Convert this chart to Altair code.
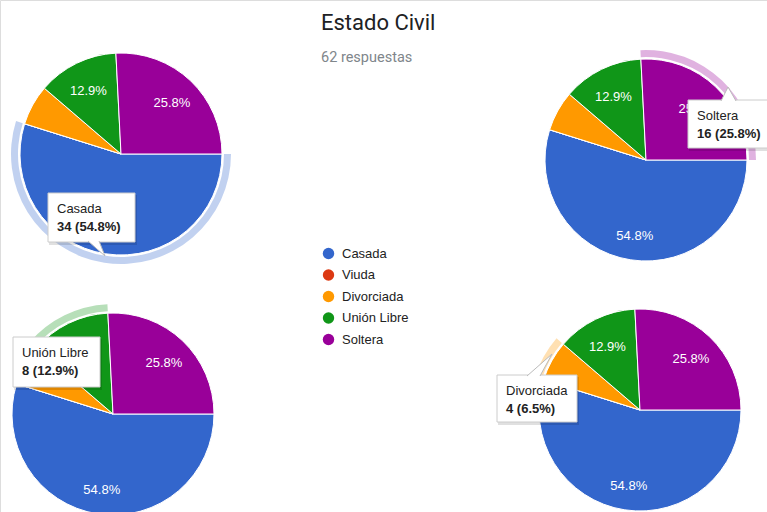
import altair as alt
import pandas as pd
import math

# ---- data ----
categories = ["Casada", "Viuda", "Divorciada", "Unión Libre", "Soltera"]
counts = [34, 0, 4, 8, 16]
colors = ["#3366cc", "#dc3912", "#ff9900", "#109618", "#990099"]
stack_order = [0, 1, 2, 3, 4]  # clockwise starting at 3 o'clock
title_text = "Estado Civil"
subtitle_text = "62 respuestas"

# ---- layout of the four pies (each one with a hovered slice) ----
pie_cx = [121, 646, 113, 640]
pie_cy = [154, 160, 414, 410]
highlighted = ["Casada", "Soltera", "Unión Libre", "Divorciada"]
tip_left = [48, 688, 13, 497]
tip_top = [193, 100, 337, 375]
tip_width = [87, 95, 87, 80]
tip_height = [49, 48, 50, 47]
pointer_px = [[88, 105, 99], [721, 728, 736], None, [527, 552, 540]]
pointer_py = [[241, 256, 241], [101, 87, 101], None, [376, 354, 376]]

R = 101
FONT = "Liberation Sans, Arial"
total = sum(counts)

df = pd.DataFrame({"cat": categories, "n": counts, "ord": stack_order})
df["pct"] = df["n"] / total
df["label"] = [f"{p * 100:.1f}%" if p >= 0.1 else "" for p in df["pct"]]

color_enc = alt.Color(
    "cat:N",
    scale=alt.Scale(domain=categories, range=colors),
    legend=alt.Legend(
        orient="none", legendX=322, legendY=247, title=None,
        symbolType="circle", symbolSize=130, symbolStrokeWidth=0,
        labelFont=FONT, labelFontSize=13, labelColor="#222222",
        rowPadding=7.5, padding=0, labelOffset=7, symbolOpacity=1,
    ),
)
theta_enc = alt.Theta(
    "n:Q", stack=True,
    scale=alt.Scale(range=[math.pi / 2, math.pi / 2 + 2 * math.pi]),
)
order_enc = alt.Order("ord:Q")

layers = []
for cx, cy, h in zip(pie_cx, pie_cy, highlighted):
    base = alt.Chart(df).encode(
        theta=theta_enc, order=order_enc, color=color_enc,
        x=alt.value(cx), y=alt.value(cy),
    )
    ring = base.mark_arc(radius=R + 9, radius2=R + 2).encode(
        opacity=alt.condition(f"datum.cat === '{h}'", alt.value(0.3), alt.value(0))
    )
    arcs = base.mark_arc(radius=R, stroke="white", strokeWidth=1)
    labels = alt.Chart(df).mark_text(
        radius=74, dy=3, font=FONT, fontSize=13, color="white"
    ).encode(
        theta=theta_enc, order=order_enc, text="label:N",
        x=alt.value(cx), y=alt.value(cy),
    )
    layers += [ring, arcs, labels]

# ---- tooltips ----
rows = []
for i, h in enumerate(highlighted):
    k = categories.index(h)
    rows.append({
        "l": tip_left[i], "t": tip_top[i],
        "r": tip_left[i] + tip_width[i], "b": tip_top[i] + tip_height[i],
        "name": h,
        "val": f"{counts[k]} ({counts[k] / total * 100:.1f}%)",
        "tx": tip_left[i] + 9, "ty1": tip_top[i] + 20, "ty2": tip_top[i] + 38,
    })
tips = pd.DataFrame(rows)
tips["sl"] = tips["l"] + 1
tips["st"] = tips["t"] + 2
tips["sr"] = tips["r"] + 2
tips["sb"] = tips["b"] + 3

shadow = alt.Chart(tips).mark_rect(color="black", opacity=0.12).encode(
    x=alt.X("sl:Q", scale=None), x2="sr:Q",
    y=alt.Y("st:Q", scale=None), y2="sb:Q",
)
box = alt.Chart(tips).mark_rect(fill="white", stroke="#cccccc", strokeWidth=1).encode(
    x=alt.X("l:Q", scale=None), x2="r:Q",
    y=alt.Y("t:Q", scale=None), y2="b:Q",
)
prow = []
for i, (pxs, pys) in enumerate(zip(pointer_px, pointer_py)):
    if pxs is None:
        continue
    for j, (a, b) in enumerate(zip(pxs, pys)):
        prow.append({"g": i, "j": j, "px": a, "py": b})
pts = pd.DataFrame(prow)
pointer = alt.Chart(pts).mark_line(
    filled=True, fill="white", stroke="#bbbbbb", strokeWidth=1
).encode(
    x=alt.X("px:Q", scale=None), y=alt.Y("py:Q", scale=None),
    detail="g:N", order="j:Q",
)
tname = alt.Chart(tips).mark_text(
    align="left", baseline="alphabetic", font=FONT, fontSize=13, color="#222222"
).encode(x=alt.X("tx:Q", scale=None), y=alt.Y("ty1:Q", scale=None), text="name:N")
tval = alt.Chart(tips).mark_text(
    align="left", baseline="alphabetic", font=FONT, fontSize=13,
    fontWeight="bold", color="#222222"
).encode(x=alt.X("tx:Q", scale=None), y=alt.Y("ty2:Q", scale=None), text="val:N")

# ---- titles ----
tdf = pd.DataFrame({"t": [title_text], "s": [subtitle_text]})
title = alt.Chart(tdf).mark_text(
    align="left", baseline="alphabetic", font="Roboto", fontSize=22, color="#202124"
).encode(x=alt.value(321), y=alt.value(30), text="t:N")
subtitle = alt.Chart(tdf).mark_text(
    align="left", baseline="alphabetic", font="Roboto", fontSize=14.5, color="#80868b"
).encode(x=alt.value(321), y=alt.value(62), text="s:N")

chart = alt.layer(
    *layers, shadow, box, pointer, tname, tval, title, subtitle
).properties(
    width=767, height=512, padding=0, autosize=alt.AutoSizeParams(type="none")
).configure_view(stroke=None).configure(background="white")

chart.save("out.html", embed_options={"renderer": "svg", "actions": False})
